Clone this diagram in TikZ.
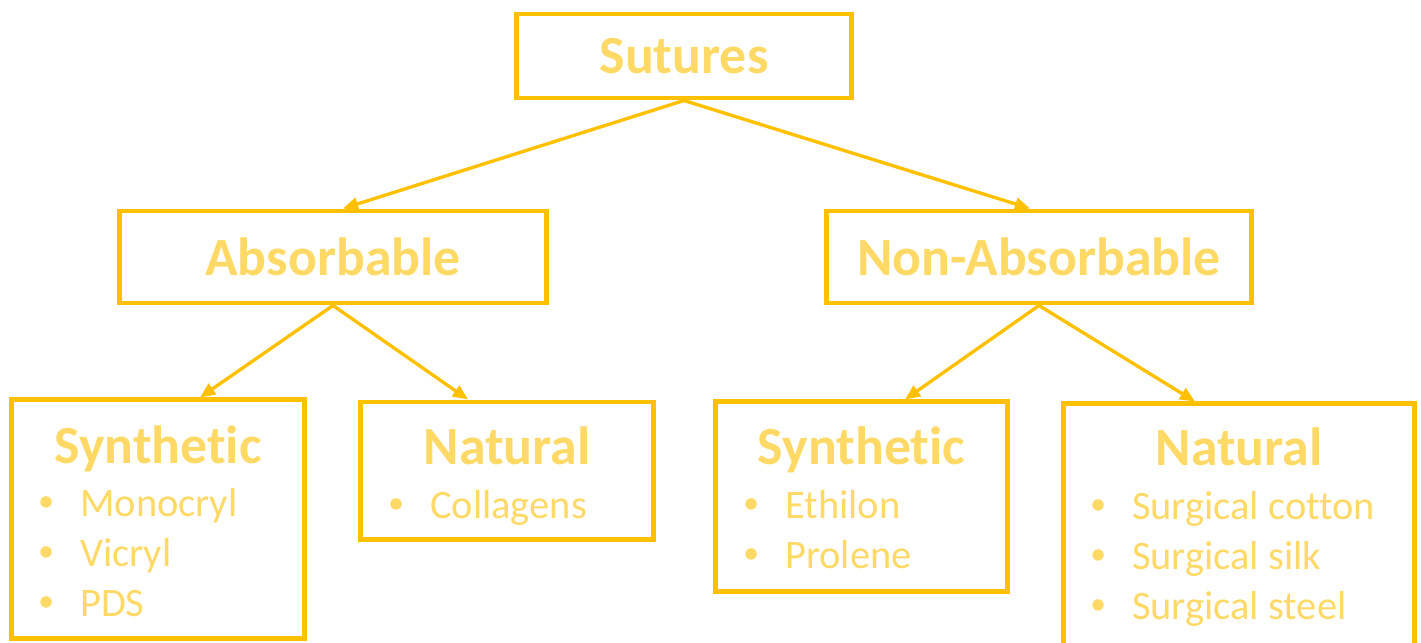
\documentclass[tikz,border=0pt]{standalone}
\usepackage{fontspec}
\setmainfont[Ligatures=NoCommon]{Carlito}
\usetikzlibrary{positioning,calc,arrows.meta}
\definecolor{boxc}{HTML}{FFC000}
\definecolor{textc}{HTML}{FFD966}
\newcommand{\bul}{\makebox[0.44cm][l]{\hspace{0.02cm}\raisebox{0.25ex}{\scalebox{0.8}{•}}}}
\newcommand{\mylist}[1]{\begin{tabular}[t]{@{}l@{}}#1\end{tabular}}
\tikzstyle{block} = [draw=boxc, line width=1.4pt, rectangle, inner sep=0pt, text=textc, font=\fontsize{15.3}{18}\selectfont\bfseries]
\tikzstyle{title} = [anchor=base, inner sep=0pt, text=textc, font=\fontsize{15.3}{18}\selectfont\bfseries]
\tikzstyle{items} = [anchor=base west, inner sep=0pt, text=textc, font=\fontsize{11.5}{14.2}\selectfont]
\tikzstyle{link} = [draw=boxc, line width=0.95pt, -{Triangle[length=4.3pt,width=3.6pt]}]
\begin{document}
\begin{tikzpicture}[x=0.01cm, y=-0.01cm]
        \useasboundingbox (0,0) rectangle (1421,642);
        \clip (0,0) rectangle (1421,642);

        \node [block, minimum width=3.34cm, minimum height=0.84cm] (sutures) at (684,56) {Sutures};
        \node [block, minimum width=4.26cm, minimum height=0.92cm] (absorb) at (333,257) {Absorbable};
        \node [block, minimum width=4.24cm, minimum height=0.92cm] (nonabsorb) at (1039,257) {Non-Absorbable};

        \node [block, minimum width=2.92cm, minimum height=2.38cm] (synabs) at (158,519) {};
        \node [block, minimum width=2.92cm, minimum height=1.37cm] (natabs) at (507,470.5) {};
        \node [block, minimum width=2.91cm, minimum height=1.89cm] (synnon) at (861.5,496.5) {};
        \node [block, minimum width=3.50cm, minimum height=2.44cm] (natnon) at (1239,526) {};

        \node [title] (synabst) at ($(synabs.north)+(0,66)$) {Synthetic};
        \node [title] (natabst) at ($(natabs.north)+(0,65)$) {Natural};
        \node [title] (synnont) at ($(synnon.north)+(0,65)$) {Synthetic};
        \node [title] (natnont) at ($(natnon.north)+(0,64)$) {Natural};

        \node [items] (synabsl) at ($(synabs.north west)+(26,119)$) {\mylist{\bul Monocryl\\ \bul Vicryl\\ \bul PDS}};
        \node [items] (natabsl) at ($(natabs.north west)+(27,119)$) {\mylist{\bul Collagens}};
        \node [items] (synnonl) at ($(synnon.north west)+(27,119)$) {\mylist{\bul Ethilon\\ \bul Prolene}};
        \node [items] (natnonl) at ($(natnon.north west)+(26,118)$) {\mylist{\bul Surgical cotton\\ \bul Surgical silk\\ \bul Surgical steel}};

        \draw [link] (sutures.south) -- ([xshift=0.1cm]absorb.north);
        \draw [link] (sutures.south) -- ([xshift=-0.09cm]nonabsorb.north);
        \draw [link] (absorb.south) -- ([xshift=0.42cm]synabs.north);
        \draw [link] (absorb.south) -- ([xshift=-0.39cm]natabs.north);
        \draw [link] (nonabsorb.south) -- ([xshift=0.435cm]synnon.north);
        \draw [link] (nonabsorb.south) -- ([xshift=-0.44cm]natnon.north);
\end{tikzpicture}
\end{document}
